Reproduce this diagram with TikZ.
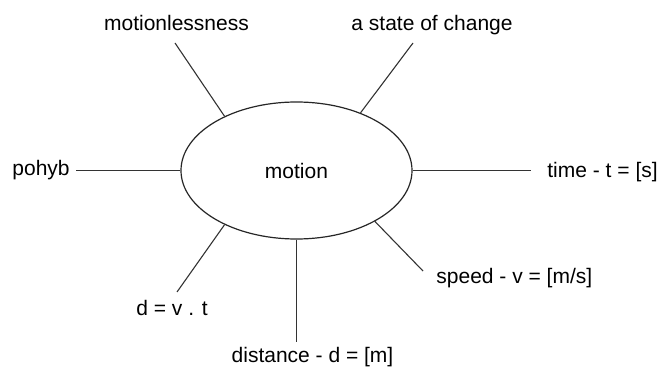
\documentclass[tikz,border=0pt]{standalone}
\usepackage{fontspec}
\setmainfont{Liberation Sans}
\usetikzlibrary{shapes.geometric}

\tikzset{
    hub/.style={draw=black!85, line width=0.6pt, ellipse, inner sep=0pt,
        minimum width=115.5pt, minimum height=68.5pt},
    lab/.style={inner sep=0pt, font=\fontsize{10.5}{12.6}\selectfont},
    spoke/.style={draw=black!80, line width=0.55pt}
}

\begin{document}
\begin{tikzpicture}[x=0.5pt, y=-0.5pt]
    \useasboundingbox (0,0) rectangle (659,369);
    \node[hub, lab] (motion) at (296.5,170.5) {motion};

    % labels round the ellipse
    \node[lab, anchor=base] (still) at (176.5,31) {motionlessness};
    \node[lab, anchor=base] (change) at (432,31) {a state of change};
    \node[lab, anchor=base west] (pohyb) at (12,176) {pohyb};
    \node[lab, anchor=base west] (time) at (547,177) {time - t = [s]};
    \node[lab, anchor=base west] (speed) at (436,283) {speed - v = [m/s]};
    \node[lab, anchor=base west] (dvt) at (136,315) {d = v . t};
    \node[lab, anchor=base] (dist) at (312.5,362) {distance - d = [m]};

    % spokes
    \foreach \nm/\ang/\ex/\ey in {still/143/175/43, change/42.6/413/43,
        pohyb/180/76/170.5, time/0/531/170.5, speed/327.6/423/271,
        dvt/217.3/177/292, dist/270/296.5/342} {
        \coordinate (\nm-end) at (\ex,\ey);
        \draw[spoke] (motion.\ang) -- (\nm-end);
    }
\end{tikzpicture}
\end{document}
